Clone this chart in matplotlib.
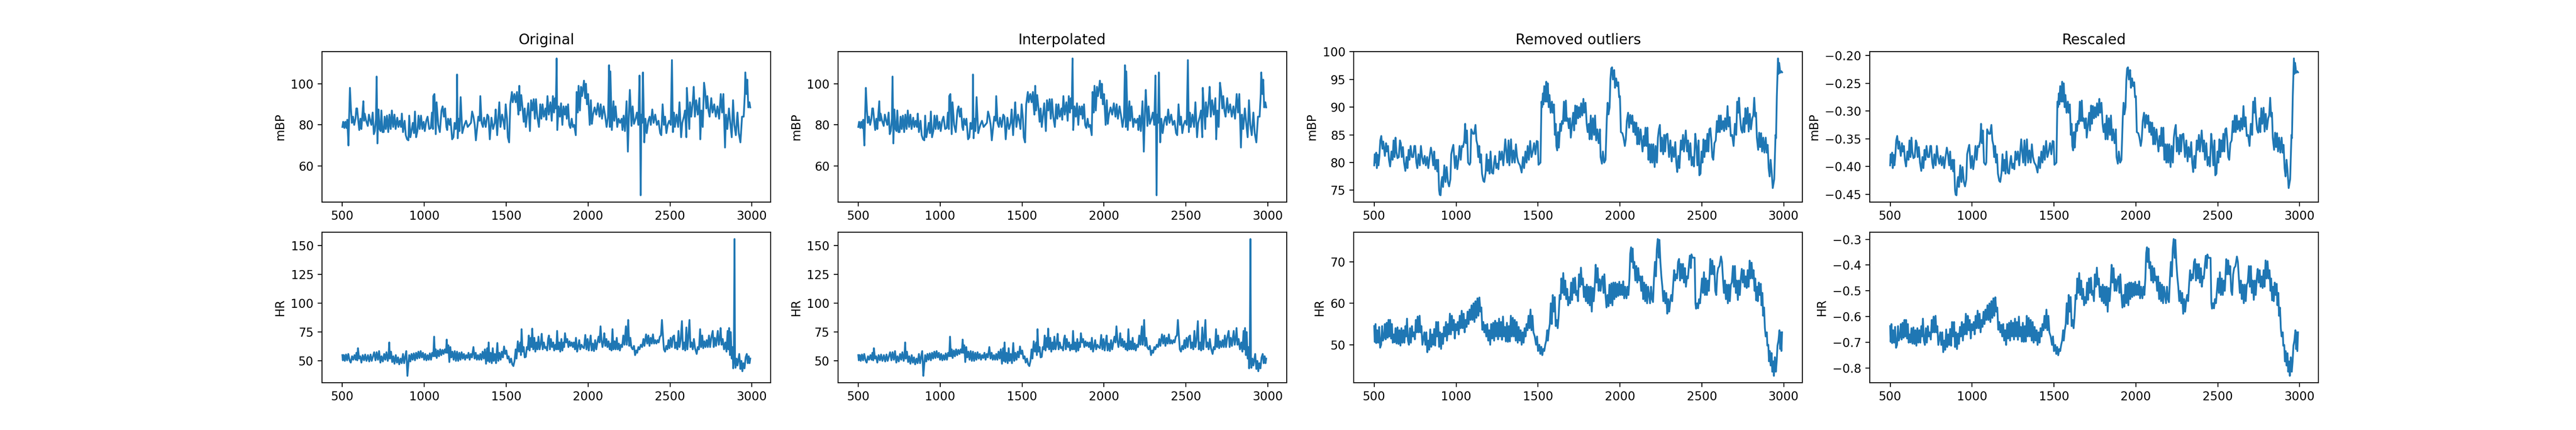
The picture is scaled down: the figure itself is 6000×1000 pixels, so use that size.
import matplotlib
matplotlib.use("Agg")
import matplotlib.pyplot as plt

# (sample index, value)
bp_original = [
    (500,79),(505,81.5),(512,78.5),(518,81.5),(525,78.5),(530,82.5),(537,70),(541,83),(546,98),(552,88),(558,81),(565,84),(572,80),(580,83),(585,88),(590,88),
    (597,82),(603,77.5),(610,83),(616,78),(622,85),(628,91.5),(632,82),(636,85.5),(645,82),(655,79.5),(662,85),(670,82),(677,80),(685,86),(692,75.5),(698,77),
    (705,83),(709,103.5),(714,71),(720,87.5),(727,78),(733,77),(738,87),(745,76.5),(752,76.5),(758,84),(765,78),(772,84.5),(780,76.5),(787,85),(795,78),(802,87),
    (810,79),(818,85),(825,78),(835,83.5),(842,79),(850,82),(858,79),(863,85.5),(870,76.5),(880,82),(887,75),(895,73),(903,72.5),(908,84.5),(915,74),(922,77),
    (930,81),(937,76),(943,86.5),(950,74),(958,77),(965,84.5),(972,78),(980,84.5),(988,78),(996,81.5),(1003,77),(1012,82),(1020,84),(1030,78),(1040,78.5),(1047,86),
    (1053,78),(1055,94),(1062,95),(1070,75.5),(1075,91),(1085,80),(1095,76.5),(1105,87),(1112,89),(1120,84),(1127,88),(1135,79),(1140,77.5),(1145,83),(1155,80),(1160,83),
    (1170,73),(1178,74),(1185,81),(1192,78),(1198,82.5),(1200,104.5),(1204,73.5),(1210,83),(1215,77),(1222,93.5),(1232,76),(1238,78),(1245,80),(1255,82),(1265,79),(1275,80),
    (1285,81),(1292,86.5),(1300,84),(1308,80),(1315,72.5),(1322,78),(1330,84),(1338,82),(1342,94),(1350,81),(1358,79),(1365,83.5),(1375,79),(1385,85),(1392,84),(1400,73),
    (1410,83.5),(1420,78),(1430,81),(1436,87.5),(1445,75),(1452,84),(1458,91),(1465,79),(1475,85),(1483,82),(1490,78),(1497,90),(1505,83),(1510,74),(1518,71.5),(1525,90),
    (1535,96),(1540,91),(1550,95),(1558,91),(1566,96),(1570,90),(1575,85),(1580,99),(1585,87),(1592,94.5),(1600,88),(1607,81.5),(1613,88),(1620,79),(1628,85),(1635,90.5),
    (1645,77),(1652,92),(1660,87),(1668,92.5),(1675,83),(1682,92.5),(1690,84),(1700,79),(1708,90),(1715,83),(1722,90),(1730,84),(1740,88),(1745,82.5),(1752,94),(1760,85),
    (1770,91),(1778,82),(1785,94),(1792,86),(1798,93),(1803,88),(1808,112.3),(1812,77.5),(1820,89),(1828,84),(1835,90.5),(1843,80),(1850,89),(1858,85),(1865,89),(1870,83),
    (1878,90),(1885,80),(1892,78.5),(1900,83),(1907,79),(1915,80),(1925,75),(1930,96),(1937,86),(1942,99),(1950,87),(1957,98.5),(1963,94),(1970,98),(1975,101.5),(1982,93),
    (1987,100),(1993,90),(2000,95),(2010,80),(2017,92),(2023,80.5),(2030,85),(2040,88.5),(2050,85),(2060,90.5),(2070,84),(2077,90),(2085,83),(2095,89),(2105,84),(2113,79),
    (2122,84),(2128,109),(2133,79),(2136,106),(2145,77.5),(2155,91.5),(2160,82),(2168,89),(2178,79),(2186,83),(2195,81),(2205,83),(2210,77.5),(2217,84.5),(2225,77),(2235,91.5),
    (2243,67),(2250,87),(2255,97),(2265,79.5),(2272,89),(2280,80.5),(2290,83),(2298,86),(2307,80),(2314,104),(2318,78),(2321,45.8),(2325,85),(2330,81),(2335,105.5),(2343,71.5),
    (2350,83),(2358,76),(2368,82),(2376,84),(2383,80),(2392,87.5),(2400,81),(2410,85),(2420,80),(2430,82),(2440,76),(2447,75),(2455,90),(2463,80),(2470,84),(2478,76),
    (2486,80),(2495,82),(2505,80),(2512,111.5),(2518,76.5),(2524,86),(2530,79),(2540,85),(2550,79),(2558,91),(2568,74),(2575,81),(2585,84),(2592,87),(2600,74),(2603,98),
    (2610,88),(2618,78),(2622,91),(2630,84),(2640,92),(2645,98.5),(2652,84),(2660,92),(2670,85),(2680,93),(2685,73),(2692,87),(2700,79),(2708,100.5),(2715,96),(2722,88),
    (2728,94),(2735,87),(2742,84),(2752,93),(2760,86),(2770,90),(2780,84),(2790,89),(2800,83),(2810,95),(2818,86),(2826,95),(2836,69),(2842,85),(2850,78),(2860,88),
    (2868,81),(2877,74),(2885,92),(2893,80),(2902,75),(2912,86),(2920,76),(2930,71.5),(2940,84),(2950,84),(2957,95),(2960,105.5),(2967,95),(2972,102),(2978,88.5),(2985,91),(2990,88.5),
]

hr_original = [
    (500,55),(503,50.5),(509,55),(515,50),(522,55.5),(529,50.5),(536,56),(544,50.5),(551,48.5),(559,54),(566,51),(574,55),(581,51),(586,57),(591,50.5),(595,61),
    (602,52),(609,54),(616,48.5),(624,55),(632,50.5),(639,55.5),(647,50),(656,55),(664,49.5),(672,55.5),(679,50),(687,54),(694,57.5),(702,50.5),(709,57.5),(717,51),
    (724,58.5),(732,48.5),(739,54),(747,49.5),(755,56),(762,51),(769,57.5),(777,50),(782,55),(786,66),(790,52),(797,58),(804,49),(811,54),(818,47.5),(826,55),
    (833,48.5),(840,53),(847,47),(855,52),(862,48),(870,56),(877,48),(884,54),(890,58.5),(893,50),(897,37),(902,46),(908,55),(915,49.5),(922,56),(929,51),
    (936,56.5),(943,50.5),(950,57),(957,52),(964,58),(971,52.5),(978,58.5),(985,53),(992,57),(999,51),(1006,56),(1013,50.5),(1020,55),(1027,51),(1034,56.5),(1041,51),
    (1048,57),(1055,54),(1060,71),(1065,54),(1070,60),(1076,52.5),(1083,59),(1090,54),(1097,60),(1104,55),(1111,59.5),(1118,56),(1125,60),(1132,57),(1137,68.5),(1142,57),
    (1147,63.5),(1153,49),(1159,62),(1165,53),(1172,58),(1179,51),(1186,58.5),(1193,50),(1200,58),(1207,50),(1214,57),(1221,51),(1228,57.5),(1235,52),(1242,56),(1249,51),
    (1256,55),(1263,52.5),(1270,57),(1277,51),(1284,56),(1291,53),(1300,62),(1307,52),(1314,57),(1321,51),(1328,55),(1335,51),(1342,56),(1349,51),(1356,58),(1363,52),
    (1370,60),(1377,47.5),(1384,61),(1388,50),(1393,66),(1398,49),(1405,57),(1412,48),(1418,61),(1424,50),(1431,56),(1438,48),(1446,65.5),(1452,50),(1459,57),(1466,51),
    (1473,58),(1480,53),(1487,62.5),(1494,56),(1501,59),(1508,52),(1515,54),(1522,48.5),(1530,52),(1537,47),(1544,45.5),(1551,50),(1558,60),(1563,52),(1571,67),(1578,58),
    (1586,66),(1590,55),(1594,77.5),(1600,58),(1607,62),(1613,53),(1620,53.5),(1626,62),(1632,60),(1638,72),(1643,59),(1650,70),(1655,62),(1659,78),(1665,60),(1672,70),
    (1678,58),(1685,66),(1691,60),(1697,71),(1704,60),(1711,65),(1717,73.5),(1723,60),(1730,66),(1737,61),(1744,62),(1750,59),(1756,69),(1761,72),(1767,60),(1773,69),
    (1780,62),(1787,66),(1793,59),(1800,64),(1806,60),(1811,76),(1817,60),(1824,66),(1830,58),(1837,69),(1843,59),(1850,66),(1854,62),(1859,74),(1866,66),(1873,69),
    (1880,62),(1887,67),(1893,63),(1900,66),(1907,62),(1913,66),(1920,60),(1926,70),(1933,58),(1940,63),(1946,68),(1952,60),(1960,64),(1967,62),(1975,61),(1983,72.5),
    (1990,60),(1997,69),(2004,59),(2010,66),(2016,72),(2022,59),(2029,65),(2036,58.5),(2043,68),(2050,60),(2057,66),(2064,71),(2070,66),(2076,80),(2082,68),(2088,62),
    (2094,67),(2099,74),(2105,63),(2112,69),(2118,62),(2125,67),(2132,60),(2138,65),(2143,59),(2149,77.5),(2155,60),(2162,67),(2168,60),(2175,70),(2181,60),(2188,65),
    (2194,59),(2201,64),(2208,62),(2215,72),(2222,64),(2231,80),(2236,64),(2240,70),(2245,85.5),(2251,63),(2258,70),(2264,62),(2272,60),(2280,63),(2287,55),(2294,59),
    (2300,57),(2307,62),(2314,60),(2322,64),(2330,62),(2338,69),(2344,63),(2354,73),(2361,65),(2368,72),(2375,63),(2382,70),(2389,65),(2396,73),(2403,65),(2410,68),
    (2417,65),(2424,68),(2431,66),(2438,71),(2445,72),(2451,85.5),(2458,70),(2463,60),(2470,58),(2477,63),(2484,60),(2491,68),(2497,61),(2504,70),(2511,62),(2518,71),
    (2525,72),(2531,61),(2538,66),(2545,60),(2552,76),(2558,62),(2565,68),(2573,84.5),(2579,60),(2586,66),(2593,59),(2600,79),(2606,60),(2612,70),(2619,85.5),(2625,62),
    (2632,66),(2639,60),(2646,69),(2653,61),(2663,56),(2670,62),(2677,60),(2684,77.5),(2690,62),(2697,72),(2703,61),(2710,67),(2717,62),(2724,68),(2731,62),(2738,72),
    (2745,62),(2752,70),(2761,76),(2767,62),(2774,70),(2781,63),(2792,76),(2798,64),(2805,70),(2809,78.5),(2815,64),(2822,69),(2830,60),(2838,66),(2845,58),(2852,76),
    (2857,60),(2861,78.5),(2866,55),(2871,75),(2877,52),(2882,62),(2886,43.5),(2890,58),(2894,155.7),(2897,50),(2900,44),(2906,52),(2912,46),(2923,56),(2930,43),(2936,50),
    (2942,41),(2948,48),(2955,43.5),(2962,53),(2969,56),(2975,48),(2981,54),(2986,48),(2990,52),
]

bp_removed = [
    (500,79.5),(503,81.5),(508,80),(512,81.8),(516,79),(522,81.4),(526,79.5),(531,81),(537,84),(543,84.8),(550,82.5),(555,83.8),(560,82.5),(565,81.2),(572,83.5),(577,82),
    (584,83),(590,80.5),(597,79.3),(605,82),(612,80.5),(618,84),(624,81),(630,84.5),(635,82),(642,80.8),(650,81),(657,84),(662,83.5),(668,81),(675,82.8),(682,80),
    (690,78.5),(697,81),(703,79),(710,82.3),(715,80.5),(722,83),(730,81),(738,81),(745,83),(750,83),(757,80),(763,79),(770,81.5),(778,79.5),(785,83),(792,81),
    (800,79.8),(808,81.2),(815,79.5),(823,81),(830,79),(838,81),(846,82.7),(853,81.5),(860,79.5),(866,82),(872,78.8),(880,80.5),(885,78.4),(890,80.5),(896,75),(900,74.2),
    (905,74.1),(910,76.5),(915,77.4),(920,75.6),(928,79.5),(935,76.5),(942,79.2),(950,76.5),(957,75.7),(965,77),(970,81.5),(977,82.5),(983,83.2),(988,81),(993,79),(1000,81.2),
    (1007,78.8),(1014,80.5),(1021,83),(1028,80.5),(1035,83),(1042,82.8),(1050,84),(1055,87),(1060,83.5),(1066,85.8),(1073,80),(1082,79.6),(1087,80),(1092,86),(1103,85.2),(1110,85.2),
    (1118,86.8),(1124,84),(1130,83.2),(1135,81),(1141,83),(1146,80),(1152,81.5),(1158,78),(1166,76.7),(1172,76.5),(1180,78.2),(1186,81.5),(1192,78.5),(1198,80.5),(1204,78),(1210,82),
    (1218,78.2),(1226,78),(1232,80),(1238,81.2),(1245,79),(1252,79.8),(1258,78.8),(1265,82),(1272,80.5),(1280,82),(1288,79.5),(1300,84.2),(1312,80),(1320,84),(1325,79.5),(1335,84.2),
    (1342,80),(1350,82.2),(1358,80),(1365,83.3),(1372,81),(1380,80),(1390,79.5),(1400,78.2),(1408,81),(1415,79),(1423,82),(1430,80),(1437,83),(1444,80.5),(1452,83.9),(1460,81),
    (1468,82),(1476,83.5),(1484,81.5),(1492,83.9),(1498,83.8),(1503,79.6),(1515,80),(1521,91),(1525,90),(1530,92.5),(1533,90.5),(1538,93.8),(1545,91),(1550,94.6),(1555,91),(1560,94.3),
    (1565,90),(1570,92.2),(1577,89),(1585,91),(1590,89),(1597,90.5),(1603,85),(1608,87),(1612,83),(1617,82.2),(1622,85.5),(1627,82.7),(1635,87),(1640,85.7),(1646,87.5),(1652,87),
    (1658,91),(1664,87.5),(1670,91.2),(1675,87.5),(1682,88),(1688,86.2),(1695,88),(1700,84.5),(1708,87),(1715,89),(1720,85.8),(1727,90.3),(1732,87),(1738,90.2),(1745,88),(1750,90),
    (1757,88.2),(1763,90.7),(1770,88.5),(1777,91.5),(1782,89),(1790,90.8),(1797,87),(1803,85.5),(1810,87),(1815,84.2),(1822,88.5),(1828,84.2),(1835,88),(1842,85),(1848,88.5),(1855,84),
    (1862,86),(1870,83.5),(1878,86),(1882,81),(1890,79.8),(1896,82),(1904,80),(1912,80.5),(1920,88),(1925,90.8),(1930,88.7),(1937,90),(1942,95),(1947,97),(1952,97.2),(1957,95),
    (1965,96.7),(1970,93.5),(1977,95.2),(1983,93.8),(1990,94.5),(1995,91.8),(2000,92),(2006,85.5),(2015,85.3),(2022,84.5),(2030,83),(2036,84.2),(2042,87.5),(2050,89),(2056,86.3),(2063,88.6),
    (2070,87),(2076,88.5),(2082,85.5),(2088,87.3),(2094,85),(2100,87.2),(2106,83.3),(2112,86.3),(2118,83.3),(2126,86),(2132,84),(2138,82),(2145,84.8),(2150,83),(2156,86.3),(2162,83),
    (2168,86.3),(2174,80.5),(2180,83.3),(2186,80),(2192,83.3),(2198,80),(2204,83.3),(2212,79.2),(2218,83),(2226,80),(2232,84.5),(2238,86),(2244,86.8),(2250,82),(2256,84.5),(2264,81.5),
    (2270,85),(2276,82),(2282,85),(2290,85.2),(2300,81),(2308,84),(2316,80.2),(2322,82.8),(2330,81),(2338,83.7),(2344,80),(2350,78.3),(2357,81.2),(2363,79),(2372,84),(2378,82.3),
    (2385,85),(2391,82),(2402,85.8),(2410,82),(2416,84),(2422,80.5),(2430,83.5),(2438,79.5),(2445,81),(2452,79.3),(2460,85.2),(2467,83),(2473,79.5),(2480,84),(2485,77.7),(2492,78),
    (2498,82),(2504,80),(2510,84.2),(2516,81),(2522,84),(2528,82),(2534,85.2),(2540,82),(2546,86),(2552,86.2),(2558,84),(2564,81),(2570,80.5),(2577,83.5),(2585,84),(2592,87.5),
    (2598,85.5),(2604,88.5),(2610,85.5),(2616,88.5),(2622,86),(2630,87.5),(2636,85.7),(2642,88),(2650,86),(2657,90.2),(2663,86.5),(2670,88.2),(2677,84.8),(2685,85),(2694,83),(2702,87),
    (2710,85),(2716,91),(2722,89),(2727,91.7),(2733,88.5),(2740,86),(2747,85.4),(2755,88),(2760,85.5),(2766,89.8),(2772,87),(2780,89.9),(2786,85.6),(2793,88.8),(2800,86),(2808,88),
    (2814,88.5),(2820,91.7),(2826,88.3),(2831,89),(2836,84.5),(2844,82.3),(2850,85.4),(2856,82.8),(2862,85.3),(2868,82),(2875,84.5),(2882,81.8),(2890,84.5),(2896,81.8),(2902,83.2),(2908,79),
    (2914,77.5),(2920,80.5),(2926,78.5),(2933,75.4),(2942,77),(2950,85),(2953,84.4),(2958,92),(2965,98.8),(2968,96),(2972,98),(2976,97),(2978,96.2),(2985,96.5),(2990,96.3),
]

hr_removed = [
    (500,54.5),(503,50.7),(508,55),(512,50.4),(518,53.5),(524,50.5),(530,54.3),(536,49.3),(542,50),(548,54.5),(553,51),(560,52),(565,55),(570,51.3),(576,55.3),(582,51.7),
    (587,56),(592,52),(597,56),(603,51.5),(608,55),(613,50.5),(619,52.5),(624,50.6),(630,54),(636,50.3),(642,54.2),(648,50.2),(654,53.5),(660,49.8),(666,54),(672,50.5),
    (678,53.5),(684,50.5),(690,54.5),(695,52),(700,56.3),(706,51),(712,50),(718,54),(724,50.5),(730,54.5),(736,52),(742,53),(748,51.3),(754,56),(760,53),(765,56.8),
    (771,53),(777,57),(782,53),(788,54.5),(794,50),(800,51.5),(806,53),(812,50),(818,53),(824,48.2),(830,51),(836,48.8),(842,53.7),(848,49.5),(854,52.5),(860,50),
    (866,53.8),(872,49.8),(878,55.5),(884,52),(890,55.5),(896,49.5),(902,53),(908,49),(914,52.7),(920,50.2),(926,54.3),(932,52),(938,55.5),(944,51),(950,55),(956,52.5),
    (962,57.5),(968,52.5),(974,57),(980,53.5),(986,56),(992,51.5),(998,55),(1004,53.5),(1010,55.5),(1016,52.5),(1022,57),(1028,54),(1034,58.2),(1040,54),(1046,57.5),(1052,53),
    (1058,56),(1064,54.3),(1070,58),(1076,55),(1082,58.5),(1088,56),(1094,59.5),(1100,56),(1106,60),(1112,55.5),(1118,60.5),(1124,56.5),(1130,61.2),(1136,57),(1142,61.4),(1148,58),
    (1154,59),(1160,53.6),(1166,55.5),(1172,53),(1178,54.8),(1184,52),(1190,55),(1196,51),(1202,53.5),(1208,50),(1214,55),(1220,51.5),(1226,55.3),(1232,51),(1238,55.8),(1244,52),
    (1250,55.3),(1256,51.3),(1262,56.3),(1268,52),(1274,55.5),(1280,51.2),(1286,56.8),(1292,52),(1298,54.3),(1304,50.8),(1310,55.3),(1316,50.7),(1322,54.5),(1328,50.8),(1334,57),(1340,52),
    (1346,56.5),(1352,52),(1358,56),(1364,51),(1370,55.5),(1376,50.5),(1382,54.3),(1388,51),(1394,53.5),(1400,50),(1406,53),(1412,50.5),(1418,54),(1424,52),(1430,55),(1436,53.5),
    (1442,57),(1448,54),(1454,58.5),(1460,53.5),(1466,57),(1472,53),(1480,52),(1488,50),(1494,52),(1500,48.5),(1508,50),(1514,47.8),(1520,49.5),(1526,47.5),(1532,49),(1538,48.5),
    (1544,50),(1550,51),(1556,53.5),(1560,51),(1566,53.5),(1572,55),(1578,60),(1584,55),(1590,62),(1596,58),(1602,61.5),(1608,54.5),(1614,56),(1620,54),(1626,57),(1632,62),
    (1638,61),(1642,66),(1648,62.5),(1654,67.3),(1660,62),(1666,65.5),(1672,61),(1678,63.5),(1684,59.5),(1690,61.5),(1696,60),(1702,65),(1708,60.8),(1714,66),(1720,62.5),(1726,66.2),
    (1732,62),(1738,63),(1744,60.5),(1750,67),(1756,64),(1762,68.6),(1768,64.5),(1774,66),(1780,61.5),(1786,64),(1792,60.5),(1798,64.5),(1804,60),(1810,64),(1816,59.5),(1822,64),
    (1828,58),(1834,63.7),(1840,60.5),(1846,64),(1852,69.3),(1858,65),(1864,68.5),(1870,63),(1876,65.8),(1882,63),(1888,65.5),(1894,66.5),(1900,62.5),(1905,67),(1912,62),(1918,59),
    (1924,62),(1930,59.3),(1936,64.5),(1942,60),(1948,64.8),(1954,59.5),(1960,65),(1966,61),(1972,65),(1978,61.5),(1984,64.7),(1990,61.8),(1996,65.2),(2002,62),(2008,64.5),(2014,62),
    (2020,65.3),(2026,61.2),(2032,64),(2040,61.2),(2046,64),(2052,62),(2058,66),(2063,72),(2068,73.5),(2072,70),(2078,73.2),(2082,68.5),(2088,70),(2094,65.5),(2100,69),(2106,65),
    (2112,68.5),(2118,65.5),(2124,66.5),(2130,63),(2136,66.5),(2142,61),(2148,65),(2154,60.5),(2160,64.5),(2166,60),(2172,64),(2178,62),(2184,60),(2190,64),(2196,61),(2202,60.3),
    (2208,66),(2214,70),(2220,66.5),(2225,73),(2231,75.5),(2237,71),(2241,75.3),(2247,70),(2253,66.5),(2259,64),(2265,60.5),(2271,63),(2277,60),(2283,62.5),(2289,57.5),(2295,61),
    (2301,58),(2307,60.5),(2313,62),(2319,60.5),(2325,64.5),(2331,68),(2337,65.5),(2343,67),(2349,66),(2355,70),(2361,70.7),(2367,65.5),(2373,69.5),(2379,66),(2385,69.5),(2391,65),
    (2397,68.5),(2403,64),(2409,66.5),(2415,66),(2421,69),(2427,71.5),(2433,68.5),(2437,71.8),(2443,71),(2456,71),(2461,60),(2465,58.7),(2471,60),(2477,58.8),(2483,61),(2489,60),
    (2495,63),(2501,66),(2507,62.5),(2513,67.5),(2519,62),(2525,66),(2531,62),(2537,65.5),(2543,63),(2549,68),(2552,70.7),(2558,67),(2564,70.3),(2570,67),(2576,69),(2582,63),
    (2588,62),(2594,67),(2600,68.5),(2608,69),(2617,71.3),(2623,70),(2629,66),(2635,62.5),(2641,65.5),(2647,61),(2653,64.5),(2659,60),(2665,64.5),(2671,60.5),(2677,64.5),(2683,65),
    (2690,69),(2696,64),(2702,69),(2708,62.5),(2714,65.5),(2720,60.8),(2726,65.5),(2732,62),(2738,66),(2744,68.3),(2750,65),(2756,68),(2762,64),(2768,66.5),(2774,63.7),(2780,68),
    (2786,64),(2792,70.3),(2798,66),(2804,69.8),(2810,66),(2816,68),(2822,63),(2826,66),(2832,60.7),(2838,64),(2842,60.5),(2848,65),(2854,62),(2860,64.7),(2864,59.5),(2870,62.5),
    (2874,57),(2880,59),(2885,54),(2890,52),(2897,53),(2900,49.8),(2906,50),(2910,46),(2915,48.5),(2920,45),(2926,48),(2930,43.5),(2936,46),(2940,42.5),(2946,47),(2952,43.5),
    (2957,46),(2962,49.8),(2968,51),(2974,53.5),(2978,49),(2982,53),(2986,48.5),(2990,53),
]

bp_rescaled = [
    (500,-.398),(503,-.378),(508,-.393),(512,-.375),(516,-.403),(522,-.379),(526,-.398),(531,-.383),(537,-.353),(543,-.345),(550,-.368),(555,-.355),(560,-.368),(565,-.381),(572,-.358),(577,-.373),
    (584,-.363),(590,-.388),(597,-.400),(605,-.373),(612,-.388),(618,-.353),(624,-.383),(630,-.348),(635,-.373),(642,-.385),(650,-.383),(657,-.353),(662,-.358),(668,-.383),(675,-.365),(682,-.393),
    (690,-.408),(697,-.383),(703,-.403),(710,-.370),(715,-.388),(722,-.363),(730,-.383),(738,-.383),(745,-.363),(750,-.363),(757,-.393),(763,-.403),(770,-.378),(778,-.398),(785,-.363),(792,-.383),
    (800,-.395),(808,-.381),(815,-.398),(823,-.383),(830,-.403),(838,-.383),(846,-.366),(853,-.378),(860,-.398),(866,-.373),(872,-.405),(880,-.388),(885,-.409),(890,-.388),(896,-.443),(900,-.451),
    (905,-.452),(910,-.428),(915,-.419),(920,-.437),(928,-.398),(935,-.428),(942,-.401),(950,-.428),(957,-.436),(965,-.423),(970,-.378),(977,-.368),(983,-.361),(988,-.383),(993,-.403),(1000,-.381),
    (1007,-.405),(1014,-.388),(1021,-.363),(1028,-.388),(1035,-.363),(1042,-.365),(1050,-.353),(1055,-.323),(1060,-.358),(1066,-.335),(1073,-.393),(1082,-.397),(1087,-.393),(1092,-.333),(1103,-.341),(1110,-.341),
    (1118,-.325),(1124,-.353),(1130,-.361),(1135,-.383),(1141,-.363),(1146,-.393),(1152,-.378),(1158,-.413),(1166,-.426),(1172,-.428),(1180,-.411),(1186,-.378),(1192,-.408),(1198,-.388),(1204,-.413),(1210,-.373),
    (1218,-.411),(1226,-.413),(1232,-.393),(1238,-.381),(1245,-.403),(1252,-.395),(1258,-.405),(1265,-.373),(1272,-.388),(1280,-.373),(1288,-.398),(1300,-.351),(1312,-.393),(1320,-.353),(1325,-.398),(1335,-.351),
    (1342,-.393),(1350,-.371),(1358,-.393),(1365,-.360),(1372,-.383),(1380,-.393),(1390,-.398),(1400,-.411),(1408,-.383),(1415,-.403),(1423,-.373),(1430,-.393),(1437,-.363),(1444,-.388),(1452,-.354),(1460,-.383),
    (1468,-.373),(1476,-.358),(1484,-.378),(1492,-.354),(1498,-.355),(1503,-.397),(1515,-.393),(1521,-.283),(1525,-.293),(1530,-.268),(1533,-.288),(1538,-.255),(1545,-.283),(1550,-.247),(1555,-.283),(1560,-.250),
    (1565,-.293),(1570,-.271),(1577,-.303),(1585,-.283),(1590,-.303),(1597,-.288),(1603,-.343),(1608,-.323),(1612,-.363),(1617,-.371),(1622,-.338),(1627,-.366),(1635,-.323),(1640,-.336),(1646,-.318),(1652,-.323),
    (1658,-.283),(1664,-.318),(1670,-.281),(1675,-.318),(1682,-.313),(1688,-.331),(1695,-.313),(1700,-.348),(1708,-.323),(1715,-.303),(1720,-.335),(1727,-.290),(1732,-.323),(1738,-.291),(1745,-.313),(1750,-.293),
    (1757,-.311),(1763,-.286),(1770,-.308),(1777,-.278),(1782,-.303),(1790,-.285),(1797,-.323),(1803,-.338),(1810,-.323),(1815,-.351),(1822,-.308),(1828,-.351),(1835,-.313),(1842,-.343),(1848,-.308),(1855,-.353),
    (1862,-.333),(1870,-.358),(1878,-.333),(1882,-.383),(1890,-.395),(1896,-.373),(1904,-.393),(1912,-.388),(1920,-.313),(1925,-.285),(1930,-.306),(1937,-.293),(1942,-.243),(1947,-.223),(1952,-.221),(1957,-.243),
    (1965,-.226),(1970,-.258),(1977,-.241),(1983,-.255),(1990,-.248),(1995,-.275),(2000,-.273),(2006,-.338),(2015,-.340),(2022,-.348),(2030,-.363),(2036,-.351),(2042,-.318),(2050,-.303),(2056,-.330),(2063,-.307),
    (2070,-.323),(2076,-.308),(2082,-.338),(2088,-.320),(2094,-.343),(2100,-.321),(2106,-.360),(2112,-.330),(2118,-.360),(2126,-.333),(2132,-.353),(2138,-.373),(2145,-.345),(2150,-.363),(2156,-.330),(2162,-.363),
    (2168,-.330),(2174,-.388),(2180,-.360),(2186,-.393),(2192,-.360),(2198,-.393),(2204,-.360),(2212,-.401),(2218,-.363),(2226,-.393),(2232,-.348),(2238,-.333),(2244,-.325),(2250,-.373),(2256,-.348),(2264,-.378),
    (2270,-.343),(2276,-.373),(2282,-.343),(2290,-.341),(2300,-.383),(2308,-.353),(2316,-.391),(2322,-.365),(2330,-.383),(2338,-.356),(2344,-.393),(2350,-.410),(2357,-.381),(2363,-.403),(2372,-.353),(2378,-.370),
    (2385,-.343),(2391,-.373),(2402,-.335),(2410,-.373),(2416,-.353),(2422,-.388),(2430,-.358),(2438,-.398),(2445,-.383),(2452,-.400),(2460,-.341),(2467,-.363),(2473,-.398),(2480,-.353),(2485,-.416),(2492,-.413),
    (2498,-.373),(2504,-.393),(2510,-.351),(2516,-.383),(2522,-.353),(2528,-.373),(2534,-.341),(2540,-.373),(2546,-.333),(2552,-.331),(2558,-.353),(2564,-.383),(2570,-.388),(2577,-.358),(2585,-.353),(2592,-.318),
    (2598,-.338),(2604,-.308),(2610,-.338),(2616,-.308),(2622,-.333),(2630,-.318),(2636,-.336),(2642,-.313),(2650,-.333),(2657,-.291),(2663,-.328),(2670,-.311),(2677,-.345),(2685,-.343),(2694,-.363),(2702,-.323),
    (2710,-.343),(2716,-.283),(2722,-.303),(2727,-.276),(2733,-.308),(2740,-.333),(2747,-.339),(2755,-.313),(2760,-.338),(2766,-.295),(2772,-.323),(2780,-.294),(2786,-.337),(2793,-.305),(2800,-.333),(2808,-.313),
    (2814,-.308),(2820,-.276),(2826,-.310),(2831,-.303),(2836,-.348),(2844,-.370),(2850,-.339),(2856,-.365),(2862,-.340),(2868,-.373),(2875,-.348),(2882,-.375),(2890,-.348),(2896,-.375),(2902,-.361),(2908,-.403),
    (2914,-.418),(2920,-.388),(2926,-.408),(2933,-.439),(2942,-.423),(2950,-.343),(2953,-.349),(2958,-.273),(2965,-.205),(2968,-.233),(2972,-.213),(2976,-.223),(2978,-.231),(2985,-.228),(2990,-.230),
]

hr_rescaled = [
    (500,-.637),(503,-.698),(508,-.629),(512,-.703),(518,-.653),(524,-.701),(530,-.640),(536,-.721),(542,-.710),(548,-.637),(553,-.693),(560,-.677),(565,-.629),(570,-.689),(576,-.624),(582,-.682),
    (587,-.613),(592,-.677),(597,-.613),(603,-.685),(608,-.629),(613,-.701),(619,-.669),(624,-.700),(630,-.645),(636,-.705),(642,-.642),(648,-.706),(654,-.653),(660,-.713),(666,-.645),(672,-.701),
    (678,-.653),(684,-.701),(690,-.637),(695,-.677),(700,-.608),(706,-.693),(712,-.710),(718,-.645),(724,-.701),(730,-.637),(736,-.677),(742,-.661),(748,-.689),(754,-.613),(760,-.661),(765,-.600),
    (771,-.661),(777,-.597),(782,-.661),(788,-.637),(794,-.710),(800,-.685),(806,-.661),(812,-.710),(818,-.661),(824,-.738),(830,-.693),(836,-.729),(842,-.650),(848,-.718),(854,-.669),(860,-.710),
    (866,-.648),(872,-.713),(878,-.621),(884,-.677),(890,-.621),(896,-.718),(902,-.661),(908,-.726),(914,-.666),(920,-.706),(926,-.640),(932,-.677),(938,-.621),(944,-.693),(950,-.629),(956,-.669),
    (962,-.589),(968,-.669),(974,-.597),(980,-.653),(986,-.613),(992,-.685),(998,-.629),(1004,-.653),(1010,-.621),(1016,-.669),(1022,-.597),(1028,-.645),(1034,-.577),(1040,-.645),(1046,-.589),(1052,-.661),
    (1058,-.613),(1064,-.640),(1070,-.581),(1076,-.629),(1082,-.573),(1088,-.613),(1094,-.556),(1100,-.613),(1106,-.549),(1112,-.621),(1118,-.540),(1124,-.605),(1130,-.529),(1136,-.597),(1142,-.525),(1148,-.581),
    (1154,-.565),(1160,-.651),(1166,-.621),(1172,-.661),(1178,-.632),(1184,-.677),(1190,-.629),(1196,-.693),(1202,-.653),(1208,-.710),(1214,-.629),(1220,-.685),(1226,-.624),(1232,-.693),(1238,-.616),(1244,-.677),
    (1250,-.624),(1256,-.689),(1262,-.608),(1268,-.677),(1274,-.621),(1280,-.690),(1286,-.600),(1292,-.677),(1298,-.640),(1304,-.697),(1310,-.624),(1316,-.698),(1322,-.637),(1328,-.697),(1334,-.597),(1340,-.677),
    (1346,-.605),(1352,-.677),(1358,-.613),(1364,-.693),(1370,-.621),(1376,-.701),(1382,-.640),(1388,-.693),(1394,-.653),(1400,-.710),(1406,-.661),(1412,-.701),(1418,-.645),(1424,-.677),(1430,-.629),(1436,-.653),
    (1442,-.597),(1448,-.645),(1454,-.573),(1460,-.653),(1466,-.597),(1472,-.661),(1480,-.677),(1488,-.710),(1494,-.677),(1500,-.734),(1508,-.710),(1514,-.745),(1520,-.718),(1526,-.750),(1532,-.726),(1538,-.734),
    (1544,-.710),(1550,-.693),(1556,-.653),(1560,-.693),(1566,-.653),(1572,-.629),(1578,-.548),(1584,-.629),(1590,-.516),(1596,-.581),(1602,-.524),(1608,-.637),(1614,-.613),(1620,-.645),(1626,-.597),(1632,-.516),
    (1638,-.532),(1642,-.452),(1648,-.508),(1654,-.431),(1660,-.516),(1666,-.460),(1672,-.532),(1678,-.492),(1684,-.556),(1690,-.524),(1696,-.548),(1702,-.468),(1708,-.535),(1714,-.452),(1720,-.508),(1726,-.449),
    (1732,-.516),(1738,-.500),(1744,-.540),(1750,-.436),(1756,-.484),(1762,-.410),(1768,-.476),(1774,-.452),(1780,-.524),(1786,-.484),(1792,-.540),(1798,-.476),(1804,-.548),(1810,-.484),(1816,-.556),(1822,-.484),
    (1828,-.581),(1834,-.489),(1840,-.540),(1846,-.484),(1852,-.399),(1858,-.468),(1864,-.412),(1870,-.500),(1876,-.455),(1882,-.500),(1888,-.460),(1894,-.444),(1900,-.508),(1905,-.436),(1912,-.516),(1918,-.565),
    (1924,-.516),(1930,-.561),(1936,-.476),(1942,-.548),(1948,-.473),(1954,-.556),(1960,-.468),(1966,-.532),(1972,-.468),(1978,-.524),(1984,-.471),(1990,-.519),(1996,-.465),(2002,-.516),(2008,-.476),(2014,-.516),
    (2020,-.463),(2026,-.529),(2032,-.484),(2040,-.529),(2046,-.484),(2052,-.516),(2058,-.452),(2063,-.355),(2068,-.331),(2072,-.388),(2078,-.336),(2082,-.412),(2088,-.388),(2094,-.460),(2100,-.404),(2106,-.468),
    (2112,-.412),(2118,-.460),(2124,-.444),(2130,-.500),(2136,-.444),(2142,-.532),(2148,-.468),(2154,-.540),(2160,-.476),(2166,-.548),(2172,-.484),(2178,-.516),(2184,-.548),(2190,-.484),(2196,-.532),(2202,-.544),
    (2208,-.452),(2214,-.388),(2220,-.444),(2225,-.339),(2231,-.299),(2237,-.372),(2241,-.302),(2247,-.388),(2253,-.444),(2259,-.484),(2265,-.540),(2271,-.500),(2277,-.548),(2283,-.508),(2289,-.589),(2295,-.532),
    (2301,-.581),(2307,-.540),(2313,-.516),(2319,-.540),(2325,-.476),(2331,-.420),(2337,-.460),(2343,-.436),(2349,-.452),(2355,-.388),(2361,-.377),(2367,-.460),(2373,-.396),(2379,-.452),(2385,-.396),(2391,-.468),
    (2397,-.412),(2403,-.484),(2409,-.444),(2415,-.452),(2421,-.404),(2427,-.364),(2433,-.412),(2437,-.359),(2443,-.372),(2456,-.372),(2461,-.548),(2465,-.569),(2471,-.548),(2477,-.568),(2483,-.532),(2489,-.548),
    (2495,-.500),(2501,-.452),(2507,-.508),(2513,-.428),(2519,-.516),(2525,-.452),(2531,-.516),(2537,-.460),(2543,-.500),(2549,-.420),(2552,-.377),(2558,-.436),(2564,-.382),(2570,-.436),(2576,-.404),(2582,-.500),
    (2588,-.516),(2594,-.436),(2600,-.412),(2608,-.404),(2617,-.367),(2623,-.388),(2629,-.452),(2635,-.508),(2641,-.460),(2647,-.532),(2653,-.476),(2659,-.548),(2665,-.476),(2671,-.540),(2677,-.476),(2683,-.468),
    (2690,-.404),(2696,-.484),(2702,-.404),(2708,-.508),(2714,-.460),(2720,-.535),(2726,-.460),(2732,-.516),(2738,-.452),(2744,-.415),(2750,-.468),(2756,-.420),(2762,-.484),(2768,-.444),(2774,-.489),(2780,-.420),
    (2786,-.484),(2792,-.382),(2798,-.452),(2804,-.385),(2810,-.452),(2816,-.420),(2822,-.500),(2826,-.452),(2832,-.537),(2838,-.484),(2842,-.540),(2848,-.468),(2854,-.516),(2860,-.473),(2864,-.556),(2870,-.508),
    (2874,-.597),(2880,-.565),(2885,-.645),(2890,-.677),(2897,-.661),(2900,-.713),(2906,-.710),(2910,-.774),(2915,-.734),(2920,-.790),(2926,-.742),(2930,-.814),(2936,-.774),(2940,-.830),(2946,-.758),(2952,-.814),
    (2957,-.774),(2962,-.713),(2968,-.693),(2974,-.653),(2978,-.726),(2982,-.661),(2986,-.734),(2990,-.661),
]

panel_titles = ["Original", "Interpolated", "Removed outliers", "Rescaled"]
row_labels = ["mBP", "HR"]
bp_panels = [bp_original, bp_original, bp_removed, bp_rescaled]
hr_panels = [hr_original, hr_original, hr_removed, hr_rescaled]

fig, axes = plt.subplots(2, 4, figsize=(30, 5), dpi=200)
fig.subplots_adjust(wspace=0.15)

for col in range(4):
    axes[0, col].set_title(panel_titles[col])
    for row, series in enumerate([bp_panels[col], hr_panels[col]]):
        xs = [p[0] for p in series]
        ys = [p[1] for p in series]
        axes[row, col].plot(xs, ys)
        axes[row, col].set_ylabel(row_labels[row])

fig.savefig("out.png")
